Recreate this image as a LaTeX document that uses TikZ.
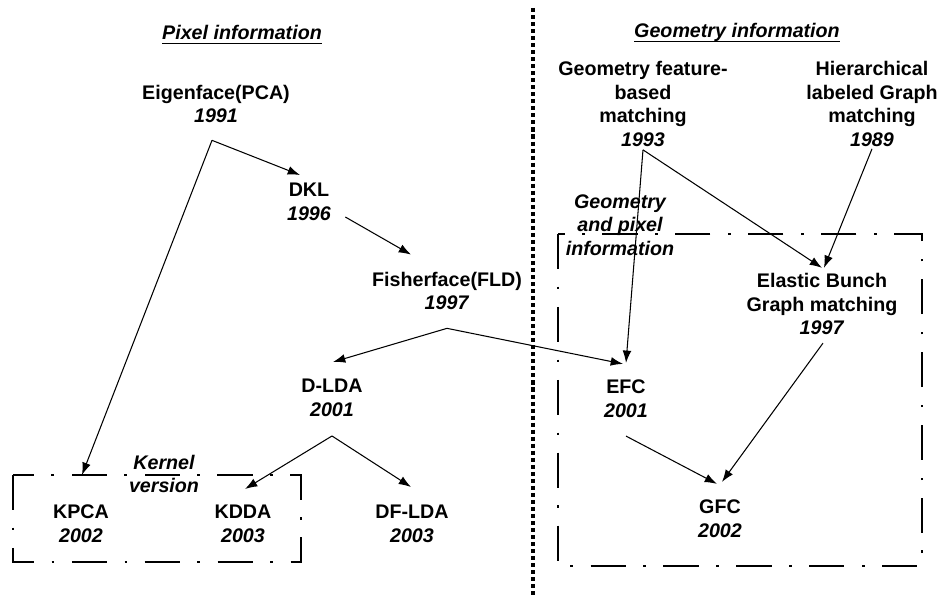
\documentclass[tikz,border=0pt]{standalone}
\usepackage{fontspec}
\setmainfont{Liberation Sans}
\usepackage{tikz}
\usetikzlibrary{arrows.meta, calc}
\newcommand{\diagfont}{\fontsize{11.2}{13.4}\selectfont}
\newcommand{\undl}[1]{\setbox0\hbox{#1}\rlap{\rule[-2.2pt]{\wd0}{0.7pt}}\box0}

\begin{document}
\begin{tikzpicture}[
    x=0.02cm, y=-0.02cm,
    method/.style={align=center, inner sep=0pt, font=\diagfont\bfseries},
    note/.style={align=center, inner sep=0pt, font=\diagfont\bfseries\itshape},
    hdr/.style={anchor=base, inner sep=0pt, font=\diagfont\bfseries\itshape},
    arr/.style={-{Latex[length=7pt, width=5pt]}, line width=0.6pt},
    region/.style={line width=1.2pt, dash pattern=on 20pt off 10pt on 1.5pt off 10pt},
    divider/.style={line width=1.8pt, dash pattern=on 2.3pt off 1.7pt}
]
\useasboundingbox (0,0) rectangle (941,597);

% headers and divider
\node[hdr] (pixhdr) at (242,40) {\undl{Pixel information}};
\node[hdr] (geohdr) at (737,38) {\undl{Geometry information}};
\draw[divider] (533,8) -- (533,597);

% kernel version / geometry and pixel regions
\draw[region] (13,475) rectangle (301,562);
\draw[region] (558,234) rectangle (922,566);
\node[note] (kernel) at (164,474) {Kernel\\version};
\node[note] (mixed) at (620,225) {Geometry\\and pixel\\information};

% pixel information methods
\node[method] (eig) at (216,104) {Eigenface(PCA)\\\textit{1991}};
\node[method] (dkl) at (309,202) {DKL\\\textit{1996}};
\node[method] (fis) at (447,291) {Fisherface(FLD)\\\textit{1997}};
\node[method] (dlda) at (332,398) {D-LDA\\\textit{2001}};
\node[method] (kpca) at (81,524) {KPCA\\\textit{2002}};
\node[method] (kdda) at (243,524) {KDDA\\\textit{2003}};
\node[method] (dflda) at (412,524) {DF-LDA\\\textit{2003}};

% geometry information methods
\node[method] (geo) at (643,104) {Geometry feature-\\based\\matching\\\textit{1993}};
\node[method] (hier) at (872,104) {Hierarchical\\labeled Graph\\matching\\\textit{1989}};
\node[method] (ebg) at (822,304) {Elastic Bunch\\Graph matching\\\textit{1997}};
\node[method] (efc) at (626,399) {EFC\\\textit{2001}};
\node[method] (gfc) at (720,519) {GFC\\\textit{2002}};

% connectors
\draw[arr] ($(eig.south)+(-4,17)$) -- ($(dkl.north)+(-9,-8)$);
\draw[arr] ($(eig.south)+(-4,17)$) -- ($(kpca.north)+(1,-30)$);
\draw[arr] ($(dkl.south east)+(14,-4)$) -- ($(fis.north)+(-36,-17)$);
\draw[arr] ($(fis.south)+(0,18)$) -- ($(dlda.north)+(1,-17)$);
\draw[arr] ($(fis.south)+(0,18)$) -- ($(efc.north)+(-3,-16)$);
\draw[arr] ($(dlda.south)+(0,19)$) -- ($(kdda.north)+(2,-16)$);
\draw[arr] ($(dlda.south)+(0,19)$) -- ($(dflda.north)+(-1,-18)$);
\draw[arr] ($(geo.south)+(0,3)$) -- ($(efc.north)+(0,-17)$);
\draw[arr] ($(geo.south)+(0,3)$) -- ($(ebg.north)+(0,-5)$);
\draw[arr] ($(hier.south)+(0,2)$) -- ($(ebg.north)+(2,-5)$);
\draw[arr] ($(ebg.south)+(1,8)$) -- ($(gfc.north)+(2,-18)$);
\draw[arr] ($(efc.south)+(0,18)$) -- ($(gfc.north)+(-3,-16)$);

\end{tikzpicture}
\end{document}
